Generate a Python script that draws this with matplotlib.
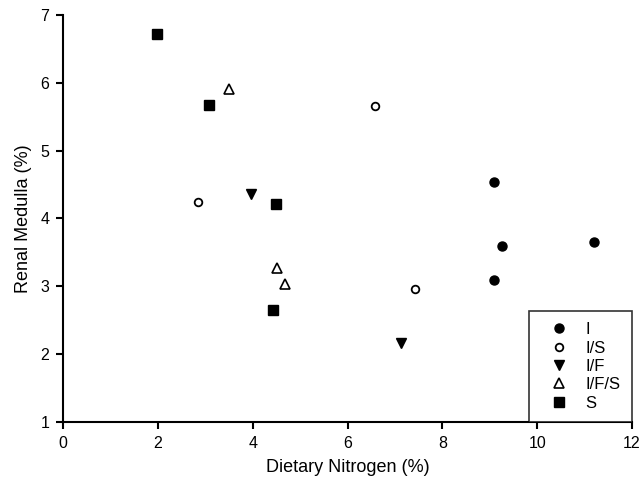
import matplotlib.pyplot as plt

plt.rcParams['font.family'] = ['Liberation Sans', 'DejaVu Sans']

# data
i_x = [9.08, 9.25, 9.08, 11.2]
i_y = [4.53, 3.60, 3.10, 3.65]
is_x = [2.84, 6.58, 7.42]
is_y = [4.25, 5.65, 2.96]
if_x = [3.96, 7.12]
if_y = [4.36, 2.17]
ifs_x = [3.50, 4.50, 4.68]
ifs_y = [5.91, 3.27, 3.04]
s_x = [1.98, 3.08, 4.49, 4.42]
s_y = [6.72, 5.67, 4.22, 2.66]

fig = plt.figure(figsize=(6.39, 4.91), dpi=100)
ax = fig.add_axes([0.099, 0.140, 0.890, 0.830])

ax.plot(i_x, i_y, 'o', color='black', markersize=6.5, linestyle='none', label='I')
ax.plot(is_x, is_y, 'o', mfc='white', mec='black', mew=1.3, markersize=5.5, linestyle='none', label='I/S')
ax.plot(if_x, if_y, 'v', color='black', markersize=7, linestyle='none', label='I/F')
ax.plot(ifs_x, ifs_y, '^', mfc='white', mec='black', mew=1.2, markersize=6.5, linestyle='none', label='I/F/S')
ax.plot(s_x, s_y, 's', color='black', markersize=7, linestyle='none', label='S')

ax.set_xlim(0, 12)
ax.set_ylim(1, 7)
ax.set_xticks(range(0, 13, 2))
ax.set_yticks(range(1, 8))
ax.spines['top'].set_visible(False)
ax.spines['right'].set_visible(False)
ax.spines['left'].set_linewidth(1.5)
ax.spines['bottom'].set_linewidth(1.5)
ax.tick_params(direction='out', length=5, width=1.5, labelsize=11.5, pad=5)

ax.set_xlabel('Dietary Nitrogen (%)', fontsize=13, labelpad=6)
ax.set_ylabel('Renal Medulla (%)', fontsize=13, labelpad=6)

leg = ax.legend(loc='lower right', bbox_to_anchor=(1.0, 0.0), frameon=True, fancybox=False,
                edgecolor='black', fontsize=12, handletextpad=0.4, labelspacing=0.2,
                borderaxespad=0, handlelength=2.3, borderpad=0.7)
leg.get_frame().set_linewidth(1.2)

fig.savefig('out.png', dpi=100)
